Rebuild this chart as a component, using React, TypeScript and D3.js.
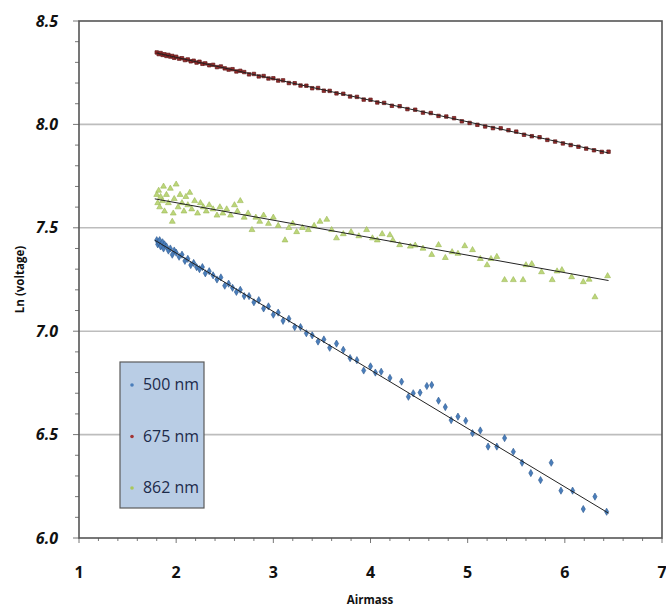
import React from "react";
import * as d3 from "d3";

const W = 666;
const H = 607;

// ---- tick labels ----
const xTicks = [1, 2, 3, 4, 5, 6, 7];
const yTicks = [6.0, 6.5, 7.0, 7.5, 8.0, 8.5];
const gridValues = [6.5, 7.0, 7.5, 8.0];

// ---- 675 nm (red) ----
const redX = [1.80,1.82,1.84,1.86,1.88,1.90,1.92,1.94,1.96,1.98,2.00,2.03,2.06,2.09,2.12,2.15,2.18,2.21,2.24,2.27,2.30,2.34,2.38,2.42,2.46,2.50,2.54,2.58,2.62,2.66,2.70,2.75,2.80,2.85,2.90,2.95,3.00,3.05,3.10,3.16,3.22,3.28,3.34,3.40,3.46,3.52,3.58,3.65,3.72,3.79,3.86,3.93,4.00,4.07,4.14,4.22,4.30,4.38,4.46,4.54,4.62,4.70,4.78,4.86,4.94,5.02,5.10,5.18,5.26,5.34,5.42,5.50,5.58,5.66,5.74,5.82,5.90,5.98,6.06,6.14,6.22,6.30,6.38,6.45];
const redY = [8.348,8.340,8.345,8.336,8.339,8.331,8.336,8.328,8.331,8.322,8.327,8.318,8.320,8.311,8.314,8.305,8.308,8.299,8.303,8.293,8.295,8.286,8.288,8.277,8.280,8.271,8.265,8.267,8.256,8.259,8.253,8.242,8.244,8.232,8.234,8.222,8.223,8.212,8.213,8.200,8.199,8.188,8.187,8.175,8.176,8.163,8.162,8.150,8.148,8.135,8.133,8.120,8.119,8.106,8.104,8.090,8.088,8.074,8.071,8.057,8.055,8.041,8.038,8.030,8.015,8.007,7.998,7.990,7.982,7.981,7.972,7.965,7.950,7.943,7.938,7.925,7.917,7.908,7.900,7.892,7.883,7.875,7.867,7.868];
const redFitX = [1.80, 6.45];
const redFitY = [8.345, 7.862];

// ---- 862 nm (green) ----
const greenX = [1.80,1.81,1.82,1.83,1.84,1.86,1.87,1.88,1.90,1.92,1.94,1.96,1.97,1.98,2.00,2.02,2.04,2.06,2.08,2.10,2.12,2.14,2.16,2.19,2.22,2.25,2.28,2.31,2.34,2.38,2.42,2.45,2.48,2.52,2.56,2.60,2.63,2.66,2.70,2.74,2.78,2.82,2.86,2.90,2.95,3.00,3.05,3.12,3.16,3.20,3.24,3.30,3.36,3.42,3.48,3.55,3.60,3.65,3.72,3.80,3.88,3.96,4.02,4.07,4.12,4.20,4.23,4.30,4.41,4.46,4.54,4.63,4.70,4.77,4.84,4.90,4.97,5.05,5.13,5.20,5.24,5.30,5.38,5.47,5.57,5.60,5.66,5.76,5.87,5.92,5.97,6.07,6.19,6.25,6.31,6.44];
const greenY = [7.66,7.62,7.68,7.60,7.65,7.63,7.70,7.58,7.66,7.62,7.69,7.53,7.57,7.64,7.71,7.60,7.66,7.62,7.58,7.65,7.61,7.67,7.59,7.63,7.57,7.62,7.60,7.58,7.61,7.59,7.56,7.60,7.57,7.59,7.56,7.61,7.58,7.63,7.55,7.57,7.49,7.55,7.53,7.56,7.52,7.55,7.51,7.44,7.50,7.52,7.48,7.50,7.49,7.51,7.53,7.54,7.49,7.45,7.47,7.48,7.46,7.49,7.45,7.44,7.47,7.465,7.44,7.417,7.41,7.415,7.40,7.37,7.417,7.355,7.383,7.375,7.412,7.393,7.35,7.32,7.35,7.36,7.248,7.248,7.248,7.32,7.325,7.286,7.248,7.29,7.296,7.262,7.238,7.25,7.165,7.267];
const greenFitX = [1.78, 6.45];
const greenFitY = [7.64, 7.245];

// ---- 500 nm (blue) ----
const blueX = [1.80,1.81,1.82,1.83,1.84,1.86,1.87,1.88,1.90,1.92,1.94,1.96,1.98,2.00,2.03,2.06,2.09,2.12,2.15,2.18,2.21,2.24,2.27,2.30,2.34,2.38,2.42,2.46,2.50,2.54,2.58,2.62,2.66,2.70,2.75,2.80,2.85,2.90,2.95,3.00,3.05,3.10,3.16,3.22,3.28,3.34,3.40,3.46,3.52,3.58,3.65,3.72,3.79,3.86,3.93,4.00,4.05,4.11,4.20,4.32,4.39,4.44,4.51,4.58,4.63,4.70,4.77,4.83,4.90,4.98,5.05,5.13,5.21,5.30,5.38,5.47,5.56,5.65,5.75,5.86,5.96,6.08,6.19,6.31,6.43];
const blueY = [7.44,7.42,7.43,7.44,7.41,7.43,7.40,7.42,7.41,7.39,7.40,7.37,7.39,7.38,7.36,7.37,7.34,7.35,7.32,7.33,7.31,7.30,7.31,7.28,7.29,7.27,7.25,7.26,7.22,7.23,7.21,7.19,7.20,7.17,7.17,7.14,7.15,7.11,7.12,7.08,7.09,7.05,7.06,7.02,7.02,6.99,6.98,6.95,6.96,6.92,6.94,6.91,6.87,6.86,6.81,6.83,6.80,6.804,6.774,6.756,6.683,6.70,6.703,6.735,6.74,6.664,6.633,6.57,6.587,6.567,6.507,6.52,6.442,6.442,6.483,6.417,6.364,6.314,6.28,6.364,6.229,6.229,6.14,6.20,6.127];
const blueFitX = [1.78, 6.45];
const blueFitY = [7.44, 6.12];

const legendLabels = ["500 nm", "675 nm", "862 nm"];

export default function App() {
  const left = 79, right = 662, top = 21, bottom = 538;
  const x = d3.scaleLinear().domain([1, 7]).range([left, right]);
  const y = d3.scaleLinear().domain([6, 8.5]).range([bottom, top]);

  const xMinor = d3.range(1, 7.001, 0.2);
  const yMinor = d3.range(6, 8.501, 0.1);

  const sym = (type: any, size: number) => d3.symbol().type(type).size(size)() as string;
  const diamond = sym(d3.symbolDiamond, 15);
  const square = sym(d3.symbolSquare, 12);
  const tri = sym(d3.symbolTriangle, 15);

  const line = d3.line<[number, number]>().x((d) => x(d[0])).y((d) => y(d[1]));
  const fit = (xs: number[], ys: number[]) => line(xs.map((v, i) => [v, ys[i]] as [number, number])) as string;

  const pts = (xs: number[], ys: number[]) => xs.map((v, i) => [v, ys[i]] as [number, number]).filter((p) => p[1] !== undefined);

  const font = "'Open Sans', 'DejaVu Sans', sans-serif";

  const legendColors = ["#4a7ebb", "#a33535", "#a9c85a"];

  return (
    <svg width={W} height={H} style={{ position: "absolute", left: 0, top: 0, background: "#fff" }}>
      {/* grid */}
      {gridValues.map((g) => (
        <line key={g} x1={left} x2={right} y1={y(g)} y2={y(g)} stroke="#bdbdbd" strokeWidth={1.6} />
      ))}
      {/* minor ticks */}
      {xMinor.map((t, i) => (
        <line key={"xm" + i} x1={x(t)} x2={x(t)} y1={bottom} y2={bottom + (Math.abs(t - Math.round(t)) < 0.01 ? 5 : 3)} stroke="#777" strokeWidth={1} />
      ))}
      {yMinor.map((t, i) => (
        <line key={"ym" + i} y1={y(t)} y2={y(t)} x1={left} x2={left - (Math.abs(t * 2 - Math.round(t * 2)) < 0.01 ? 6 : 4)} stroke="#777" strokeWidth={1} />
      ))}

      {/* points */}
      <g fill="#962a2a" stroke="#5e1818" strokeWidth={0.7}>
        {pts(redX, redY).map((p, i) => (
          <path key={"r" + i} d={square} transform={`translate(${x(p[0])},${y(p[1])})`} />
        ))}
      </g>
      <g fill="#bcd67a" stroke="#9cb955" strokeWidth={0.6}>
        {pts(greenX, greenY).map((p, i) => (
          <path key={"g" + i} d={tri} transform={`translate(${x(p[0])},${y(p[1])})`} />
        ))}
      </g>
      <g fill="#4a7ebb" stroke="#2f5a91" strokeWidth={0.6}>
        {pts(blueX, blueY).map((p, i) => (
          <path key={"b" + i} d={diamond} transform={`translate(${x(p[0])},${y(p[1])})`} />
        ))}
      </g>

      {/* fit lines */}
      <path d={fit(redFitX, redFitY)} stroke="#222" strokeWidth={1} fill="none" />
      <path d={fit(greenFitX, greenFitY)} stroke="#222" strokeWidth={1} fill="none" />
      <path d={fit(blueFitX, blueFitY)} stroke="#222" strokeWidth={1} fill="none" />

      {/* frame */}
      <rect x={left} y={top} width={right - left} height={bottom - top} fill="none" stroke="#555" strokeWidth={1.6} />

      {/* legend */}
      <rect x={120} y={362} width={84} height={146} fill="#b9cde5" stroke="#5a5a5a" strokeWidth={1.2} />
      {legendLabels.map((l, i) => (
        <g key={l}>
          <circle cx={132} cy={385 + i * 51.5} r={1.8} fill={legendColors[i]} />
          <text x={143} y={385 + i * 51.5} dy="0.35em" fontFamily={font} fontSize={15.5} fill="#1c2a4a" textLength={56} lengthAdjust="spacingAndGlyphs">{l}</text>
        </g>
      ))}

      {/* tick labels */}
      {yTicks.map((t) => (
        <text key={t} x={58} y={y(t)} dy="0.35em" textAnchor="end" fontFamily={font} fontWeight={700} fontStyle="italic" fontSize={16} fill="#111">{t.toFixed(1)}</text>
      ))}
      {xTicks.map((t) => (
        <text key={t} x={x(t)} y={572} dy="0.35em" textAnchor="middle" fontFamily={font} fontWeight={700} fontSize={16} fill="#111">{t}</text>
      ))}
      <text x={370} y={600} dy="0.35em" textAnchor="middle" fontFamily={font} fontWeight={700} fontSize={11.5} fill="#111">Airmass</text>
      <text transform={`translate(20,${y(7.25)}) rotate(-90)`} dy="0.35em" textAnchor="middle" fontFamily={font} fontWeight={700} fontSize={11.5} fill="#111">Ln (voltage)</text>
    </svg>
  );
}
